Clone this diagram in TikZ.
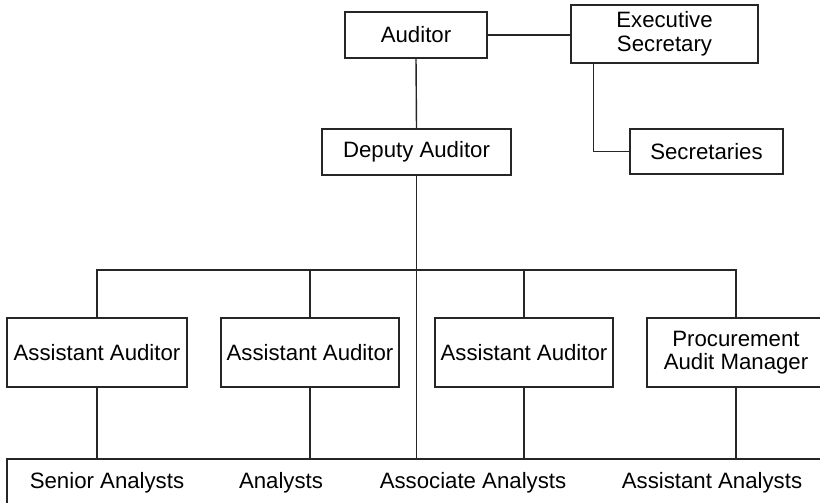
\documentclass[tikz,border=0pt]{standalone}
\usepackage{fontspec}
\setmainfont{Liberation Sans}
\begin{document}
\begin{tikzpicture}[x=0.025cm,y=-0.025cm,line width=1pt,draw=black!85,
		box/.style={draw=black!85,rectangle,inner sep=0pt,align=center,font=\fontsize{15.8}{16.8}\selectfont},
		lbl/.style={inner sep=0pt,anchor=base,font=\fontsize{15.8}{16.8}\selectfont}]
			\useasboundingbox (0,0) rectangle (820,503);
			\node[box,minimum width=142*0.025cm,minimum height=46*0.025cm] (aud) at (416,35) {Auditor};
			\node[box,minimum width=187*0.025cm,minimum height=58*0.025cm] (exec) at (664.5,34) {Executive\\Secretary};
			\node[box,minimum width=189*0.025cm,minimum height=46*0.025cm] (dep) at (416.5,152) {Deputy Auditor};
			\node[box,minimum width=153*0.025cm,minimum height=45*0.025cm] (sec) at (706.5,151.5) {Secretaries};
			\node[box,minimum width=180*0.025cm,minimum height=69*0.025cm] (aa1) at (97,352.5) {Assistant Auditor};
			\node[box,minimum width=178*0.025cm,minimum height=69*0.025cm] (aa2) at (310,352.5) {Assistant Auditor};
			\node[box,minimum width=178*0.025cm,minimum height=69*0.025cm] (aa3) at (524,352.5) {Assistant Auditor};
			\node[box,minimum width=178*0.025cm,minimum height=69*0.025cm] (pam) at (736,352.5) {Procurement\\Audit Manager};
			\node[box,minimum width=823*0.025cm,minimum height=56*0.025cm] (staff) at (418.5,487) {};
			\node[lbl] (sen) at (107,488) {Senior Analysts};
			\node[lbl] (ana) at (281,488) {Analysts};
			\node[lbl] (ass) at (473,488) {Associate Analysts};
			\node[lbl] (asa) at (712,488) {Assistant Analysts};
			\coordinate (bus) at (0,270);
			\draw (aud.east) -- (aud.east -| exec.west);
			\draw (aud.south) -- (dep.north);
			\draw ([xshift=23*0.025cm]exec.south west) |- (sec.west);
			\draw (dep.south) -- (dep.south |- staff.north);
			\draw (aa1.north) -- (aa1.north |- bus) -- (pam.north |- bus) -- (pam.north);
			\foreach \n in {aa2,aa3}
				\draw (\n.north) -- (\n.north |- bus);
			\foreach \n in {aa1,aa2,aa3,pam}
				\draw (\n.south) -- (\n.south |- staff.north);
		\end{tikzpicture}
\end{document}
